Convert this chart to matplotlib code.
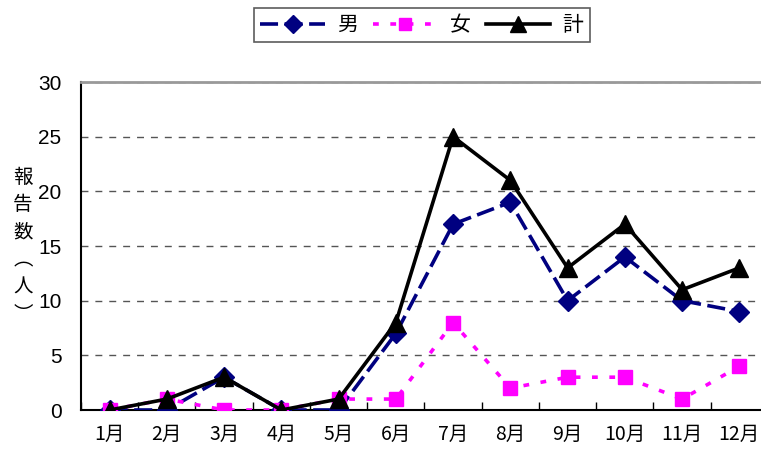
import numpy as np
import matplotlib.pyplot as plt

plt.rcParams['font.family'] = ['Noto Sans CJK JP', 'DejaVu Sans']

months = ["1月", "2月", "3月", "4月", "5月", "6月",
          "7月", "8月", "9月", "10月", "11月", "12月"]
male = [0, 0, 3, 0, 0, 7, 17, 19, 10, 14, 10, 9]
female = [0, 1, 0, 0, 1, 1, 8, 2, 3, 3, 1, 4]
total = [0, 1, 3, 0, 1, 8, 25, 21, 13, 17, 11, 13]

W, H = 761, 455
fig = plt.figure(figsize=(W / 100, H / 100), dpi=100)
# plot area runs a little past the right edge of the figure
ax = fig.add_axes([81 / W, 1 - 410 / H, (768 - 81) / W, 328 / H])

x = np.arange(len(months))
ax.plot(x, male, color="#000080", lw=2.6, dashes=(5, 1.8),
        marker="D", ms=10, mfc="#000080", mec="#000080", label="男", zorder=3)
ax.plot(x, female, color="#ff00ff", lw=2.6, dashes=(1.6, 3.2),
        marker="s", ms=10, mfc="#ff00ff", mec="#ff00ff", label="女", zorder=3)
ax.plot(x, total, color="black", lw=2.6,
        marker="^", ms=13, mfc="black", mec="black", label="計", zorder=4)

ax.set_xlim(-0.5, len(months) - 0.5)
ax.set_ylim(0, 30)
ax.set_yticks(np.arange(0, 31, 5))
ax.yaxis.grid(True, color="#555555", ls=(0, (5, 5)), lw=1)
ax.set_axisbelow(True)

ax.set_xticks(x)
ax.set_xticklabels(months, fontsize=14)
ax.set_xticks(np.arange(-0.5, len(months), 1), minor=True)
ax.tick_params(axis="x", which="major", length=0, pad=10)
ax.tick_params(axis="x", which="minor", direction="in", length=6, width=1)
ax.tick_params(axis="y", length=0, pad=14)
for lab in ax.get_yticklabels():
    lab.set_family(["Liberation Sans", "DejaVu Sans"])
    lab.set_fontsize(15)

ax.spines["right"].set_visible(False)
ax.spines["top"].set_color("#999999")
ax.spines["top"].set_linewidth(2)
ax.spines["left"].set_linewidth(1.5)
ax.spines["bottom"].set_linewidth(1.5)

fig.text(23 / W, 1 - 246 / H, "報\n告\n数\n︵\n人\n︶", fontsize=14,
         ha="center", va="center", linespacing=1.4)

leg = fig.legend(loc="center", bbox_to_anchor=(422 / W, 1 - 25 / H), ncol=3,
                 fontsize=15, frameon=True, fancybox=False, edgecolor="#333333",
                 handlelength=3.1, columnspacing=0.7, handletextpad=0.6,
                 borderpad=0.3, markerscale=0.9)
leg.get_frame().set_linewidth(1.2)

fig.savefig("out.png", dpi=100)
